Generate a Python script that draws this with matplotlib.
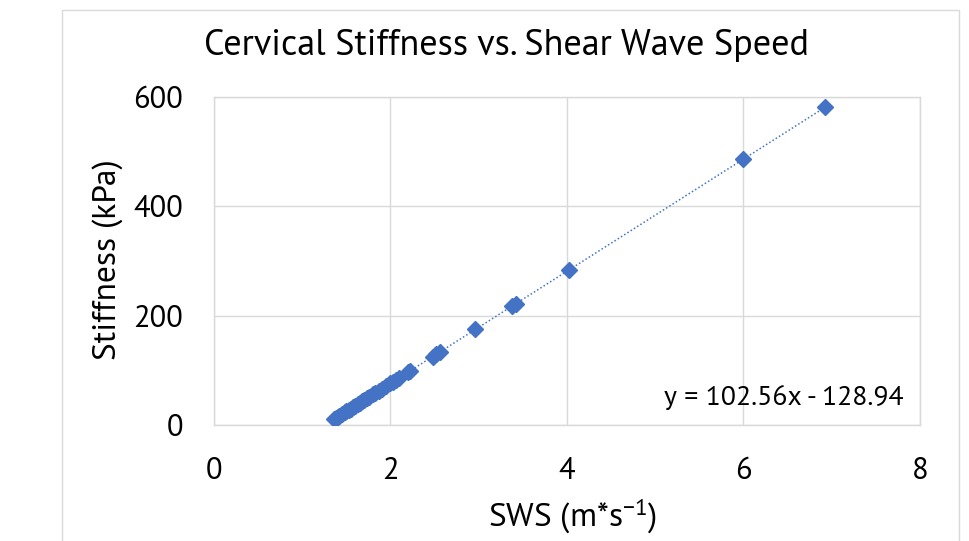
import matplotlib
matplotlib.use("Agg")
import matplotlib.pyplot as plt
import matplotlib.patches as mpatches
import numpy as np

# Data
sws = [1.36, 1.38, 1.40, 1.42, 1.45, 1.48, 1.50, 1.53, 1.55, 1.58, 1.60, 1.63,
       1.66, 1.68, 1.70, 1.73, 1.76, 1.80, 1.83, 1.87, 1.90, 1.95, 2.00, 2.03,
       2.06, 2.10, 2.20, 2.22, 2.48, 2.52, 2.56, 2.96, 3.38, 3.42, 4.02, 6.00, 6.92]
stiffness = [11, 13, 15, 17, 20, 23, 25, 28, 30, 33, 35, 38,
             41, 43, 45, 49, 52, 56, 59, 63, 66, 71, 76, 79,
             82, 86, 97, 99, 125, 130, 134, 175, 218, 222, 283, 486, 581]
slope = 102.56
intercept = -128.94
x_ticks = [0, 2, 4, 6, 8]
y_ticks = [0, 200, 400, 600]

FONT = ["PT Sans", "DejaVu Sans"]
plt.rcParams['font.family'] = FONT
plt.rcParams['mathtext.fontset'] = 'custom'
plt.rcParams['mathtext.rm'] = 'PT Sans'
plt.rcParams['mathtext.default'] = 'rm'

W, H = 970, 541
fig = plt.figure(figsize=(W / 100, H / 100), dpi=100)
fig.patch.set_facecolor('white')

# outer chart border
border = mpatches.Rectangle((62 / W, -0.05), (959 - 62) / W, 1.05 - 10 / H,
                            transform=fig.transFigure, fill=False,
                            edgecolor='#d9d9d9', linewidth=1.0)
fig.add_artist(border)

ax = fig.add_axes([214 / W, 1 - 425 / H, (920 - 214) / W, (425 - 97) / H])
ax.set_xlim(0, 8)
ax.set_ylim(0, 600)
ax.set_xticks(x_ticks)
ax.set_yticks(y_ticks)
ax.grid(True, color='#d9d9d9', linewidth=1.0)
ax.set_axisbelow(True)
for s in ax.spines.values():
    s.set_color('#d9d9d9')
    s.set_linewidth(1.0)
ax.tick_params(length=0, labelsize=22, colors='#000000')
ax.tick_params(axis='y', pad=22)
ax.tick_params(axis='x', pad=23)

# trendline
xl = np.array([min(sws), max(sws)])
ax.plot(xl, slope * xl + intercept, linestyle=(0, (1, 1.5)), color='#4472C4',
        linewidth=1.1, zorder=2)
ax.plot(sws, stiffness, linestyle='none', marker='D', markersize=8.5,
        color='#4472C4', zorder=3)

ax.text(7.81, 36.6, f"y = {slope}x - {abs(intercept)}", ha='right', va='baseline',
        fontsize=20, color='#000000')

fig.text(573 / W, 1 - 527 / H, "SWS (m*s$^{-1}$)", ha='center', va='baseline',
         fontsize=24)
fig.text(108 / W, 1 - 260 / H, "Stiffness (kPa)", ha='center', va='center',
         rotation=90, fontsize=24)

fig.text(506 / W, 1 - 55 / H, "Cervical Stiffness vs. Shear Wave Speed",
         ha='center', va='baseline', fontsize=26)

fig.savefig("out.png", dpi=100)
